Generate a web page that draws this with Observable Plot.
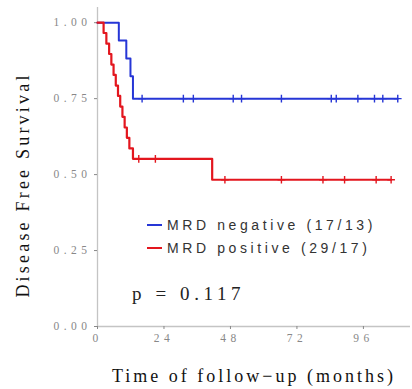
<!DOCTYPE html>
<html>
<head>
<meta charset="utf-8">
<script src="https://cdn.jsdelivr.net/npm/d3@7"></script>
<script src="https://cdn.jsdelivr.net/npm/@observablehq/plot@0.6"></script>
<style>
  html, body { margin: 0; padding: 0; background: #fff; }
  #wrap { position: relative; width: 412px; height: 389px; overflow: hidden; }
  .kmc g[aria-label="y-axis tick label"] text { letter-spacing: 4.5px; }
  .kmc g[aria-label="x-axis tick label"] text { letter-spacing: 4.5px; }
  .kmc .xtitle text { letter-spacing: 3px; }
  .kmc .ytitle text { letter-spacing: 3.2px; }
  .leg { position: absolute; font-family: "Liberation Sans", Arial, sans-serif; font-size: 14px; letter-spacing: 3.6px; color: #333; white-space: nowrap; line-height: 1; }
  .sw { position: absolute; height: 2px; width: 15px; }
  .pval { position: absolute; font-family: "Liberation Serif", "Times New Roman", serif; font-size: 19px; letter-spacing: 4.6px; color: #222; white-space: nowrap; line-height: 1; }
</style>
</head>
<body>
<div id="wrap"></div>
<script>
// ---- data ----
const groups = ["MRD negative (17/13)", "MRD positive (29/17)"];
const groupColors = ["#2636d6", "#e3161e"];
const negTimes = [0, 7.7, 10.4, 11.9, 12.8, 108.4];
const negSurv  = [1, 0.941, 0.882, 0.824, 0.75, 0.75];
const posTimes = [0, 2.2, 3.2, 4.2, 5.0, 5.8, 6.6, 7.4, 8.2, 9.0, 9.8, 10.6, 11.5, 12.8, 41.4, 106];
const posSurv  = [1, 0.966, 0.931, 0.897, 0.862, 0.828, 0.793, 0.759, 0.724, 0.690, 0.655, 0.621, 0.586, 0.552, 0.483, 0.483];
const negCensor = [16.1, 31, 34.6, 49, 52, 66.4, 84.4, 86.2, 94, 100, 103, 108.4];
const posCensor = [14.9, 20.9, 46, 66.4, 81.4, 89.2, 100.6, 106];
const xTicks = [0, 24, 48, 72, 96];
const yTicks = [0, 0.25, 0.5, 0.75, 1];
const xTitle = "Time of follow\u2212up (months)";
const yTitle = "Disease Free Survival";
const pText = "p = 0.117";

function stepAt(times, surv, t) {
  let v = surv[0];
  for (let i = 0; i < times.length; i++) if (times[i] <= t) v = surv[i];
  return v;
}
const negLine = negTimes.map((t, i) => ({t, s: negSurv[i]}));
const posLine = posTimes.map((t, i) => ({t, s: posSurv[i]}));
const negC = negCensor.map(t => ({t, s: stepAt(negTimes, negSurv, t)}));
const posC = posCensor.map(t => ({t, s: stepAt(posTimes, posSurv, t)}));

const chart = Plot.plot({
  width: 412,
  height: 389,
  marginLeft: 97,
  marginRight: 2,
  marginTop: 7,
  marginBottom: 63,
  className: "kmc",
  style: {fontFamily: "'Liberation Serif', 'Times New Roman', serif", background: "#fff", overflow: "visible"},
  x: {domain: [0, 113], ticks: xTicks, label: null},
  y: {domain: [0, 1.05], ticks: yTicks, label: null},
  marks: [
    Plot.ruleX([0], {y1: 0, y2: 1.05, stroke: "#c4c4c4", strokeWidth: 1.3}),
    Plot.ruleY([0], {x1: 0, x2: 113, stroke: "#c4c4c4", strokeWidth: 1.3}),
    Plot.axisY({ticks: yTicks, tickFormat: d3.format(".2f"), tickSize: 3, tickPadding: 3, fontSize: 11.5, color: "#888", stroke: "#888", label: null}),
    Plot.axisX({ticks: xTicks, tickSize: 3, tickPadding: 4, fontSize: 11.5, color: "#888", stroke: "#888", label: null}),
    Plot.line(negLine, {x: "t", y: "s", curve: "step-after", stroke: groupColors[0], strokeWidth: 2}),
    Plot.line(posLine, {x: "t", y: "s", curve: "step-after", stroke: groupColors[1], strokeWidth: 2.2}),
    Plot.dot(negC, {x: "t", y: "s", symbol: "plus", r: 2.6, stroke: groupColors[0], strokeWidth: 1.4}),
    Plot.dot(posC, {x: "t", y: "s", symbol: "plus", r: 2.6, stroke: groupColors[1], strokeWidth: 1.4}),
    Plot.text([xTitle], {frameAnchor: "bottom", dy: 55, fontSize: 18, fill: "#111", className: "xtitle"}),
    Plot.text([yTitle], {frameAnchor: "left", textAnchor: "middle", rotate: -90, dx: -74, dy: 18, fontSize: 18, fill: "#111", className: "ytitle"})
  ]
});

const wrap = document.getElementById("wrap");
wrap.appendChild(chart);

// legend + p value overlay
const legTops = [219, 242];
groups.forEach((g, i) => {
  const sw = document.createElement("div");
  sw.className = "sw";
  sw.style.left = "147px";
  sw.style.top = (legTops[i] + 5) + "px";
  sw.style.background = groupColors[i];
  wrap.appendChild(sw);
  const t = document.createElement("div");
  t.className = "leg";
  t.style.left = "167px";
  t.style.top = (legTops[i] - 1) + "px";
  t.textContent = g;
  wrap.appendChild(t);
});
const p = document.createElement("div");
p.className = "pval";
p.style.left = "132px";
p.style.top = "284px";
p.textContent = pText;
wrap.appendChild(p);
</script>
</body>
</html>
